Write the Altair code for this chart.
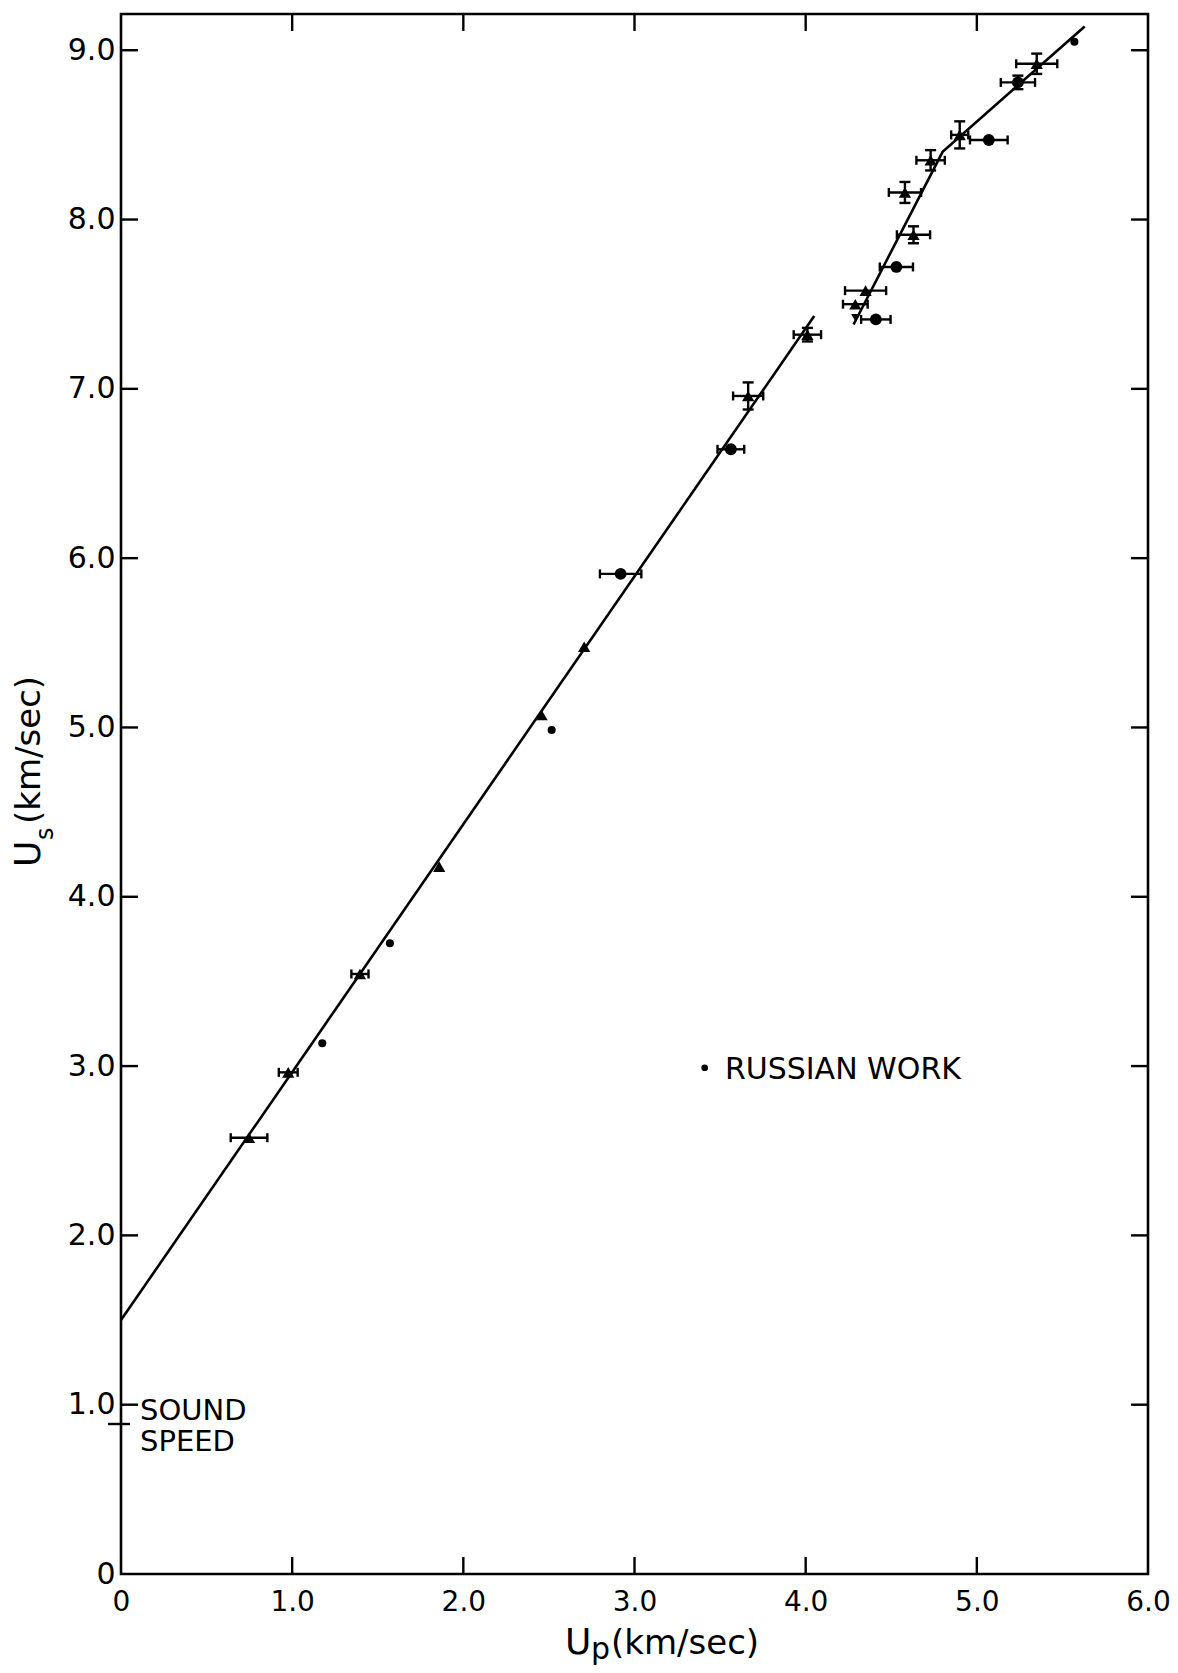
import altair as alt
import pandas as pd

# ---------------- data ----------------
# fitted lines (two segments)
fit1_x = [0.0, 4.05]
fit1_y = [1.50, 7.43]
fit2_x = [4.28, 4.80, 5.63]
fit2_y = [7.38, 8.40, 9.14]

# this work: triangles
tri_x = [0.748, 0.977, 1.396, 1.859, 2.457, 2.706, 3.664, 4.01, 4.29, 4.35, 4.63, 4.58, 4.73, 4.90, 5.35]
tri_y = [2.577, 2.963, 3.544, 4.178, 5.074, 5.477, 6.958, 7.32, 7.50, 7.58, 7.91, 8.16, 8.35, 8.50, 8.92]
tri_xerr = [0.107, 0.055, 0.05, 0, 0, 0, 0.088, 0.08, 0.072, 0.12, 0.097, 0.094, 0.083, 0.05, 0.12]
tri_yerr = [0, 0, 0, 0, 0, 0, 0.08, 0.04, 0, 0, 0.05, 0.062, 0.06, 0.08, 0.06]

# this work: round symbols with error bars
circ_x = [2.919, 3.563, 4.41, 4.53, 5.07, 5.24]
circ_y = [5.907, 6.643, 7.41, 7.72, 8.47, 8.81]
circ_xerr = [0.121, 0.078, 0.086, 0.097, 0.11, 0.10]
circ_yerr = [0, 0, 0, 0, 0, 0.04]

# inverted triangle
inv_x = [4.29]
inv_y = [7.42]

# Russian work (small dots)
rus_x = [1.176, 1.571, 2.516, 5.57]
rus_y = [3.135, 3.725, 4.985, 9.05]

# axis ticks
x_ticks = [0, 1, 2, 3, 4, 5, 6]
y_ticks = [0, 1, 2, 3, 4, 5, 6, 7, 8, 9]
x_inner_ticks = [1, 2, 3, 4, 5]
y_inner_ticks = [1, 2, 3, 4, 5, 6, 7, 8, 9]
sound_speed = [0.886]

# annotations
legend_dot_x = [3.41]
legend_dot_y = [2.99]
legend_text = ["RUSSIAN WORK"]
legend_text_x = [3.528]
legend_text_y = [2.983]
sound_text = ["SOUND", "SPEED"]
sound_text_x = [0.111, 0.111]
sound_text_y = [0.969, 0.783]

x_title_parts = ["U", "p", "(km/sec)"]
y_title_parts = ["U", "s", "(km/sec)"]

# ---------------- build tables ----------------
W, H = 1027, 1560
FONT = "DejaVu Sans"

fit_df = pd.DataFrame({
    "x": fit1_x + fit2_x,
    "y": fit1_y + fit2_y,
    "seg": ["a"] * len(fit1_x) + ["b"] * len(fit2_x),
})
tri_df = pd.DataFrame({"x": tri_x, "y": tri_y})
circ_df = pd.DataFrame({"x": circ_x, "y": circ_y})
inv_df = pd.DataFrame({"x": inv_x, "y": inv_y})
rus_df = pd.DataFrame({"x": rus_x, "y": rus_y})

all_x = tri_x + circ_x
all_y = tri_y + circ_y
all_xe = tri_xerr + circ_xerr
all_ye = tri_yerr + circ_yerr

xe_rows = [(y, x - e, x + e) for x, y, e in zip(all_x, all_y, all_xe) if e > 0]
ye_rows = [(x, y - e, y + e) for x, y, e in zip(all_x, all_y, all_ye) if e > 0]
xerr_df = pd.DataFrame(xe_rows, columns=["y", "lo", "hi"])
yerr_df = pd.DataFrame(ye_rows, columns=["x", "lo", "hi"])
xcap_df = pd.DataFrame({"x": list(xerr_df["lo"]) + list(xerr_df["hi"]),
                        "y": list(xerr_df["y"]) * 2})
ycap_df = pd.DataFrame({"x": list(yerr_df["x"]) * 2,
                        "y": list(yerr_df["lo"]) + list(yerr_df["hi"])})

xs = alt.Scale(domain=[0, 6], nice=False, zero=False)
ys = alt.Scale(domain=[0, 9.214], nice=False, zero=False)

label_expr = "datum.value == 0 ? '0' : format(datum.value, '.1f')"
x_axis = alt.Axis(values=x_ticks, labelExpr=label_expr, ticks=False, tickSize=0,
                  domain=False, grid=False, title=None, labelFont=FONT,
                  labelFontSize=28, labelColor="black", labelPadding=14,
                  labelFlush=False, labelOverlap=False)
y_axis = alt.Axis(values=y_ticks, labelExpr=label_expr, ticks=False, tickSize=0,
                  domain=False, grid=False, title=None, labelFont=FONT,
                  labelFontSize=30, labelColor="black", labelPadding=6,
                  labelFlush=False, labelOverlap=False)


def X(f):
    return alt.X(f, type="quantitative", scale=xs, axis=x_axis)


def Y(f):
    return alt.Y(f, type="quantitative", scale=ys, axis=y_axis)


LW = 2.6
EW = 2.4

lines = alt.Chart(fit_df).mark_line(color="black", strokeWidth=LW).encode(
    x=X("x"), y=Y("y"), detail="seg:N",
)

xerr = alt.Chart(xerr_df).mark_rule(color="black", strokeWidth=EW).encode(
    x=X("lo"), x2="hi", y=Y("y"))
yerr = alt.Chart(yerr_df).mark_rule(color="black", strokeWidth=EW).encode(
    y=Y("lo"), y2="hi", x=X("x"))
xcaps = alt.Chart(xcap_df).mark_tick(color="black", orient="vertical", size=9,
                                     thickness=EW, opacity=1).encode(x=X("x"), y=Y("y"))
ycaps = alt.Chart(ycap_df).mark_tick(color="black", orient="horizontal", size=11,
                                     thickness=EW, opacity=1).encode(x=X("x"), y=Y("y"))

tris = alt.Chart(tri_df).mark_point(shape="triangle-up", filled=True, size=150,
                                    color="black", opacity=1).encode(x=X("x"), y=Y("y"))
circs = alt.Chart(circ_df).mark_point(shape="circle", filled=True, size=140,
                                      color="black", opacity=1).encode(x=X("x"), y=Y("y"))
invs = alt.Chart(inv_df).mark_point(shape="triangle-down", filled=True, size=70,
                                    color="black", opacity=1).encode(x=X("x"), y=Y("y"))
rus = alt.Chart(rus_df).mark_point(shape="circle", filled=True, size=65,
                                   color="black", opacity=1).encode(x=X("x"), y=Y("y"))

# inward ticks on all four sides
xt_df = pd.DataFrame({"v": x_inner_ticks})
yt_df = pd.DataFrame({"v": y_inner_ticks})
TL = 17
tick_bottom = alt.Chart(xt_df).mark_rule(color="black", strokeWidth=EW).encode(
    x=X("v"), y=alt.value(H), y2=alt.value(H - TL))
tick_top = alt.Chart(xt_df).mark_rule(color="black", strokeWidth=EW).encode(
    x=X("v"), y=alt.value(0), y2=alt.value(TL))
tick_left = alt.Chart(yt_df).mark_rule(color="black", strokeWidth=EW).encode(
    y=Y("v"), x=alt.value(0), x2=alt.value(TL))
tick_right = alt.Chart(yt_df).mark_rule(color="black", strokeWidth=EW).encode(
    y=Y("v"), x=alt.value(W), x2=alt.value(W - TL))
sound_tick = alt.Chart(pd.DataFrame({"v": sound_speed})).mark_rule(
    color="black", strokeWidth=EW).encode(y=Y("v"), x=alt.value(-13), x2=alt.value(9))

# annotations
leg_dot = alt.Chart(pd.DataFrame({"x": legend_dot_x, "y": legend_dot_y})).mark_point(
    shape="circle", filled=True, size=45, color="black", opacity=1).encode(x=X("x"), y=Y("y"))
leg_txt = alt.Chart(pd.DataFrame({"x": legend_text_x, "y": legend_text_y, "t": legend_text})).mark_text(
    align="left", baseline="middle", font=FONT, fontSize=30, color="black", dy=1).encode(
    x=X("x"), y=Y("y"), text="t:N")
snd_txt = alt.Chart(pd.DataFrame({"x": sound_text_x, "y": sound_text_y, "t": sound_text})).mark_text(
    align="left", baseline="middle", font=FONT, fontSize=29, color="black", dy=1).encode(
    x=X("x"), y=Y("y"), text="t:N")


# axis titles built from pieces (subscripts)
def piece(txt, px, py, size, angle=0):
    return alt.Chart(pd.DataFrame({"t": [txt]})).mark_text(
        align="left", baseline="alphabetic", font=FONT, fontSize=size,
        color="black", angle=angle).encode(x=alt.value(px), y=alt.value(py), text="t:N")


xt1 = piece(x_title_parts[0], 444, 1640, 36)
xt2 = piece(x_title_parts[1], 470, 1645, 30)
xt3 = piece(x_title_parts[2], 490, 1640, 34)
yt1 = piece(y_title_parts[0], -81, 853, 36, 270)
yt2 = piece(y_title_parts[1], -68, 826, 24, 270)
yt3 = piece(y_title_parts[2], -81, 810, 34, 270)

chart = alt.layer(
    lines, xerr, yerr, xcaps, ycaps, tris, circs, invs, rus,
    tick_bottom, tick_top, tick_left, tick_right, sound_tick,
    leg_dot, leg_txt, snd_txt, xt1, xt2, xt3, yt1, yt2, yt3,
).properties(
    width=W, height=H,
    background="white",
    padding={"left": 113, "top": 6, "right": 22, "bottom": 94},
    autosize=alt.AutoSizeParams(type="none"),
).configure_view(
    stroke="black", strokeWidth=2.6
)

chart.save("out.html", embed_options={"renderer": "svg", "actions": False})
